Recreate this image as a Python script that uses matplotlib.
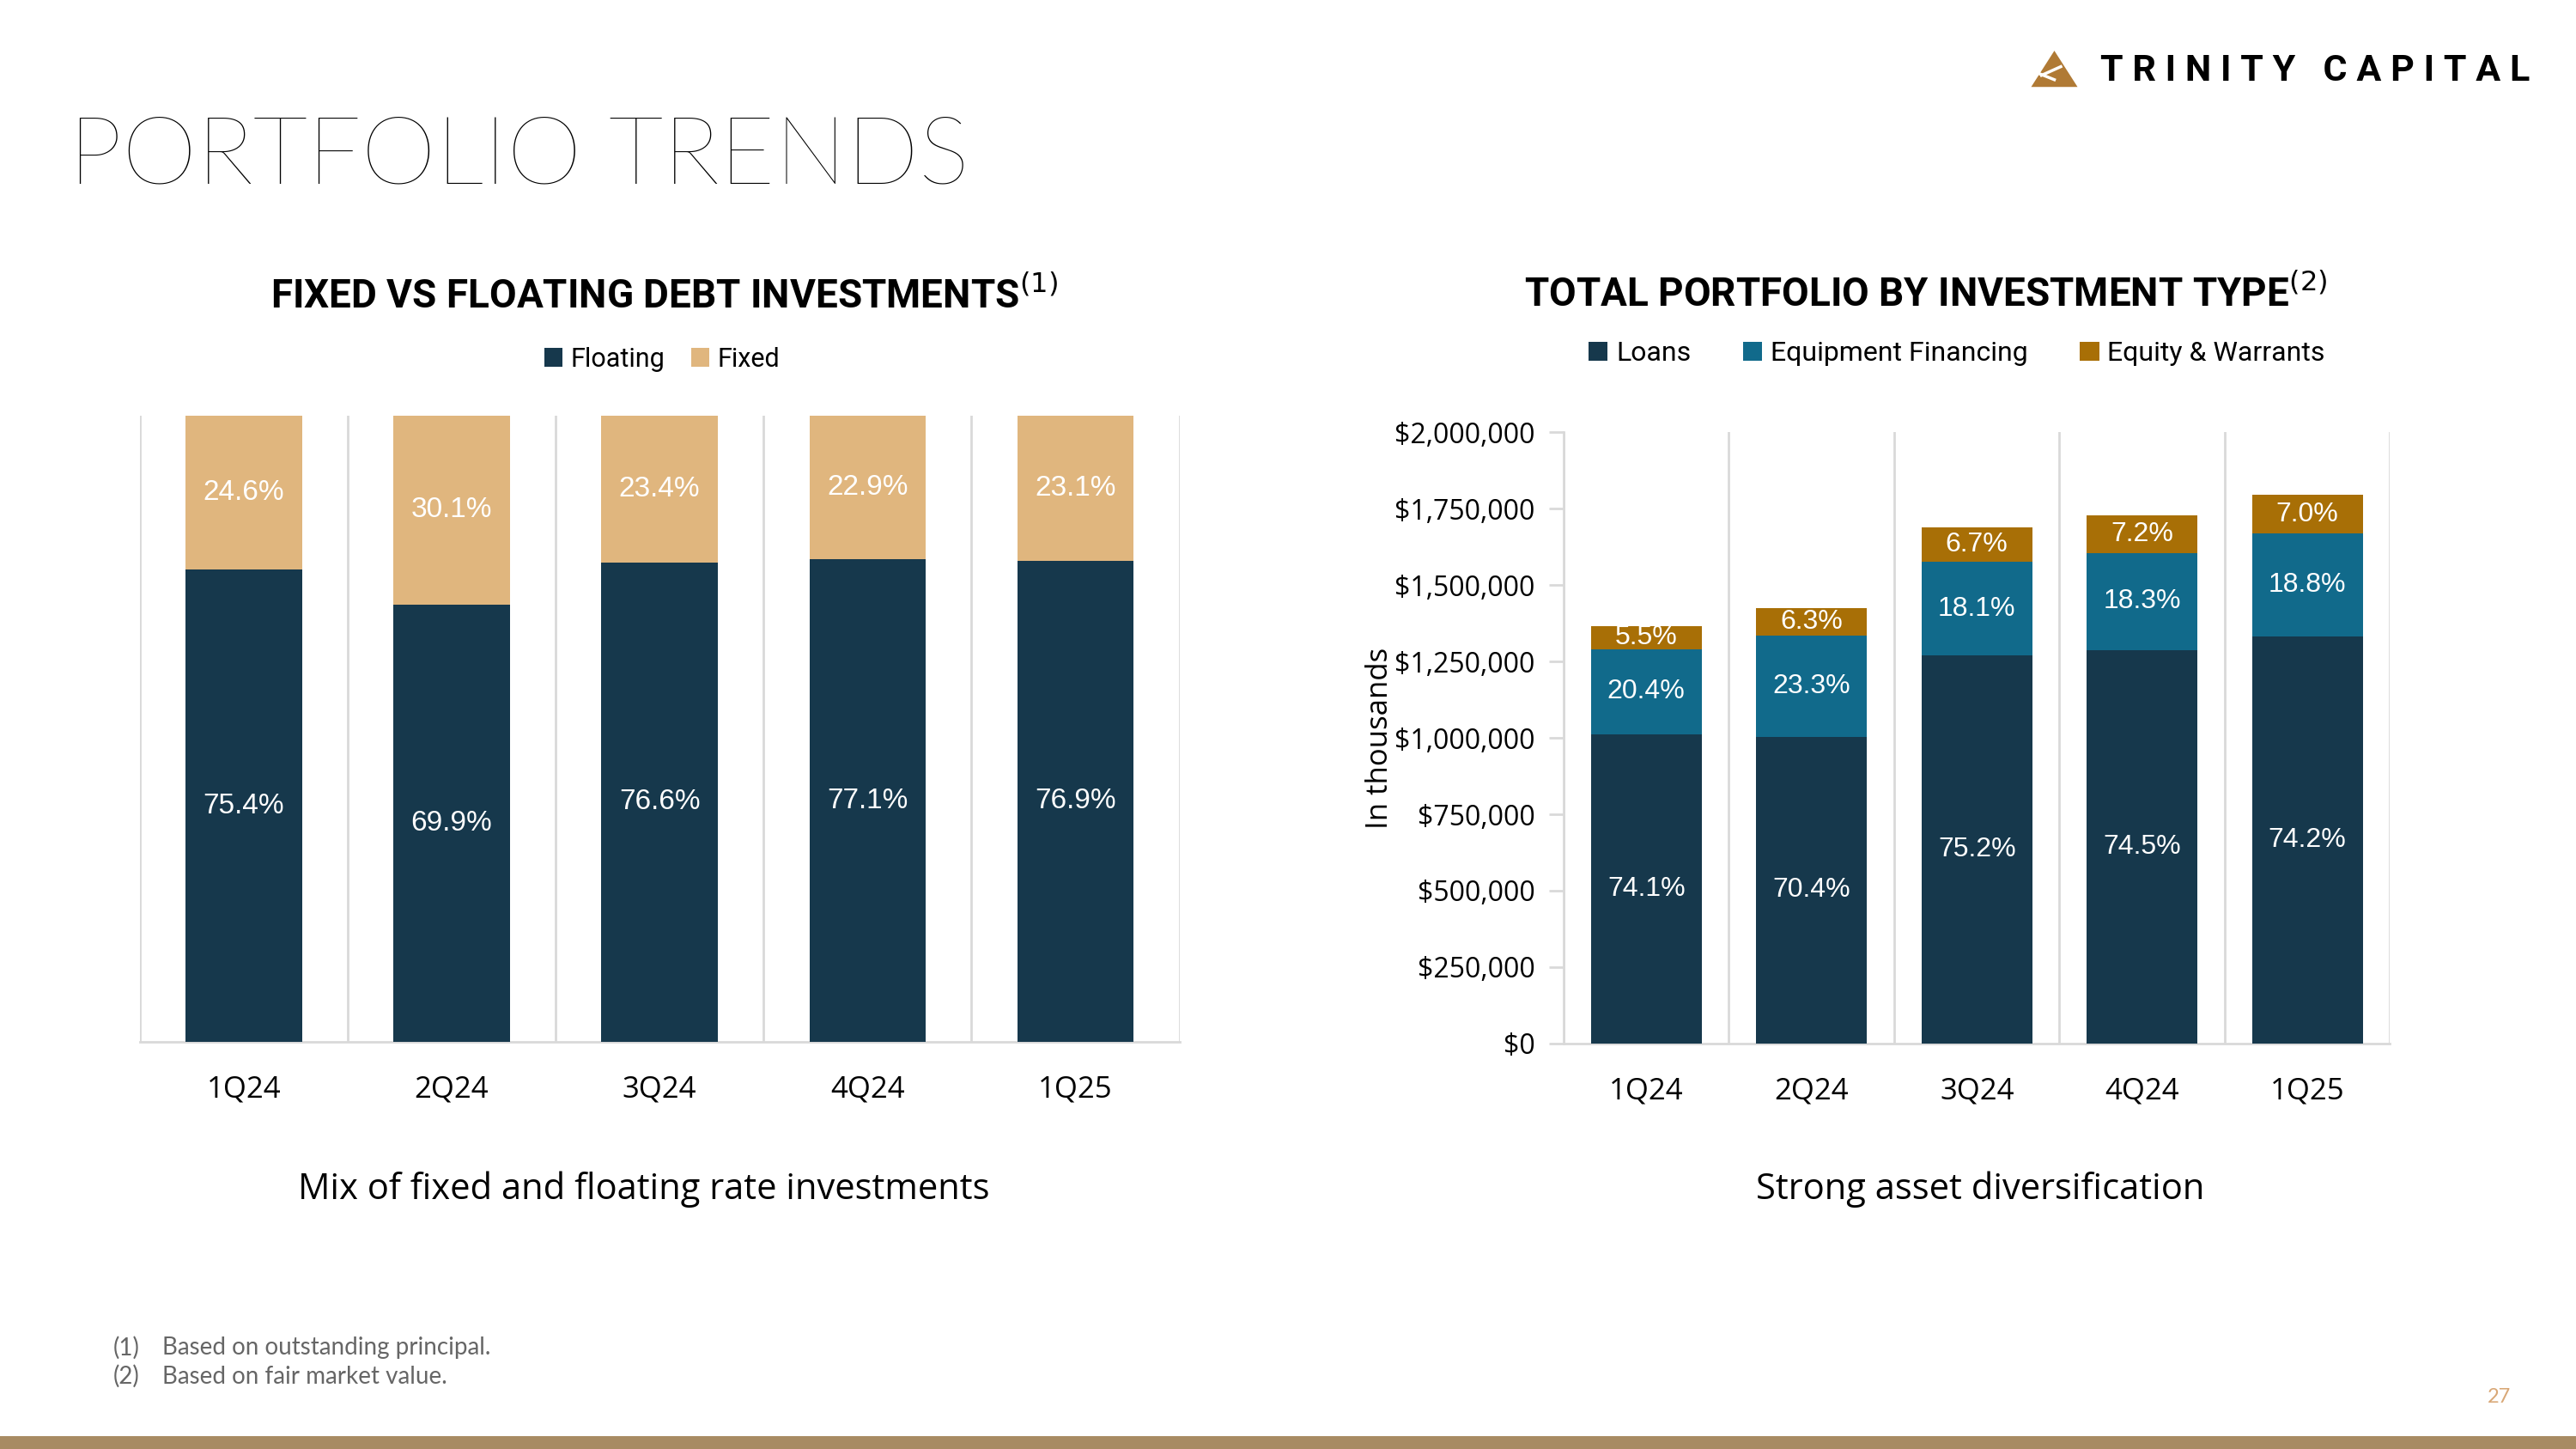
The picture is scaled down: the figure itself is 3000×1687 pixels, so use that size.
import numpy as np
import matplotlib.pyplot as plt
from matplotlib.patches import Polygon

quarters = ['1Q24', '2Q24', '3Q24', '4Q24', '1Q25']

# left chart: share of debt investments (%)
floating_pct = [75.4, 69.9, 76.6, 77.1, 76.9]
fixed_pct = [24.6, 30.1, 23.4, 22.9, 23.1]

# right chart: total portfolio (in thousands) and mix (%)
total_portfolio = [1365000, 1425000, 1688000, 1728000, 1794000]
loans_pct = [74.1, 70.4, 75.2, 74.5, 74.2]
equip_pct = [20.4, 23.3, 18.1, 18.3, 18.8]
equity_pct = [5.5, 6.3, 6.7, 7.2, 7.0]
y_ticks = [0, 250000, 500000, 750000, 1000000, 1250000, 1500000, 1750000, 2000000]

NAVY = '#16384C'
TAN = '#E0B67E'
TEAL = '#116A8B'
GOLD = '#A86F06'
GRID = '#D9D9D9'

plt.rcParams['font.family'] = ['Lato', 'DejaVu Sans']

fig = plt.figure(figsize=(30, 16.87), dpi=100)
x = np.arange(len(quarters))

# ---- left: fixed vs floating
ax1 = fig.add_axes([0.0542, 0.281, 0.4037, 0.432])
ax1.bar(x, floating_pct, width=0.56, color=NAVY, label='Floating', zorder=3)
ax1.bar(x, fixed_pct, width=0.56, bottom=floating_pct, color=TAN, label='Fixed', zorder=3)
for i in range(len(quarters)):
    ax1.text(x[i], floating_pct[i] / 2, f'{floating_pct[i]:.1f}%', ha='center', va='center',
             color='white', fontsize=24, family='Liberation Sans', zorder=4)
    ax1.text(x[i], floating_pct[i] + fixed_pct[i] / 2, f'{fixed_pct[i]:.1f}%', ha='center',
             va='center', color='white', fontsize=24, family='Liberation Sans', zorder=4)
ax1.set_xlim(-0.5, 4.5)
ax1.set_ylim(0, 100)
ax1.set_yticks([])
ax1.set_xticks(x)
ax1.set_xticklabels(quarters, fontsize=25, family='Open Sans')
ax1.set_xticks(np.arange(-0.5, 5), minor=True)
ax1.tick_params(axis='x', which='both', length=0, pad=28)
ax1.grid(which='minor', axis='x', color=GRID, lw=2, zorder=0)
for s in ['top', 'left', 'right']:
    ax1.spines[s].set_visible(False)
ax1.spines['bottom'].set_color(GRID)
ax1.spines['bottom'].set_linewidth(2)

# ---- right: total portfolio by type
loans = np.array(total_portfolio) * np.array(loans_pct) / 100
equip = np.array(total_portfolio) * np.array(equip_pct) / 100
equity = np.array(total_portfolio) * np.array(equity_pct) / 100

ax2 = fig.add_axes([0.607, 0.2798, 0.3208, 0.422])
ax2.bar(x, loans, width=0.67, color=NAVY, label='Loans', zorder=3)
ax2.bar(x, equip, width=0.67, bottom=loans, color=TEAL, label='Equipment Financing', zorder=3)
ax2.bar(x, equity, width=0.67, bottom=loans + equip, color=GOLD, label='Equity & Warrants', zorder=3)
for i in range(len(quarters)):
    ax2.text(x[i], loans[i] / 2, f'{loans_pct[i]:.1f}%', ha='center', va='center',
             color='white', fontsize=23, family='Liberation Sans', zorder=4)
    ax2.text(x[i], loans[i] + equip[i] / 2, f'{equip_pct[i]:.1f}%', ha='center', va='center',
             color='white', fontsize=23, family='Liberation Sans', zorder=4)
    ax2.text(x[i], loans[i] + equip[i] + equity[i] / 2, f'{equity_pct[i]:.1f}%', ha='center',
             va='center', color='white', fontsize=23, family='Liberation Sans', zorder=4)
ax2.set_xlim(-0.5, 4.5)
ax2.set_ylim(0, 2000000)
ax2.set_yticks(y_ticks)
ax2.set_yticklabels([f'${v:,.0f}' for v in y_ticks], fontsize=23, family='Open Sans')
ax2.set_xticks(x)
ax2.set_xticklabels(quarters, fontsize=25, family='Open Sans')
ax2.set_xticks(np.arange(-0.5, 5), minor=True)
ax2.tick_params(axis='x', which='both', length=0, pad=28)
ax2.tick_params(axis='y', length=12, width=2, color=GRID, pad=12)
ax2.grid(which='minor', axis='x', color=GRID, lw=2, zorder=0)
ax2.set_ylabel('In thousands', fontsize=25, family='Open Sans', labelpad=0)
for s in ['top', 'right']:
    ax2.spines[s].set_visible(False)
for s in ['bottom', 'left']:
    ax2.spines[s].set_color(GRID)
    ax2.spines[s].set_linewidth(2)

# ---- titles, legends, captions
fig.text(0.0268, 0.891, 'PORTFOLIO TRENDS', fontsize=80, fontweight='light', va='center',
         ha='left', family=['Lato', 'DejaVu Sans'])
fig.text(0.2577, 0.796, 'FIXED VS FLOATING DEBT INVESTMENTS$^{(1)}$', fontsize=33,
         fontweight='bold', ha='center', va='center', family='Roboto')
fig.text(0.7476, 0.797, 'TOTAL PORTFOLIO BY INVESTMENT TYPE$^{(2)}$', fontsize=33,
         fontweight='bold', ha='center', va='center', family='Roboto')

fig.legend(handles=ax1.containers, labels=['Floating', 'Fixed'], loc='center',
           bbox_to_anchor=(0.257, 0.752), ncol=2, frameon=False,
           handlelength=0.7, handleheight=0.7, handletextpad=0.3, columnspacing=1.0,
           prop={'family': 'Roboto', 'size': 22})
fig.legend(handles=ax2.containers, labels=['Loans', 'Equipment Financing', 'Equity & Warrants'],
           loc='center', bbox_to_anchor=(0.7596, 0.756), ncol=3, frameon=False,
           handlelength=0.7, handleheight=0.7, handletextpad=0.3, columnspacing=1.9,
           prop={'family': 'Roboto', 'size': 23})

fig.text(0.250, 0.179, 'Mix of fixed and floating rate investments', fontsize=30,
         ha='center', va='center', family='Open Sans')
fig.text(0.7686, 0.179, 'Strong asset diversification', fontsize=30,
         ha='center', va='center', family='Open Sans')

fig.text(0.044, 0.070, '(1)', fontsize=20, color='#666666', va='center')
fig.text(0.063, 0.070, 'Based on outstanding principal.', fontsize=20, color='#666666', va='center')
fig.text(0.044, 0.050, '(2)', fontsize=20, color='#666666', va='center')
fig.text(0.063, 0.050, 'Based on fair market value.', fontsize=20, color='#666666', va='center')
fig.text(0.970, 0.036, '27', fontsize=17, color='#D9A877', ha='center', va='center')

# bottom band
fig.add_artist(plt.Rectangle((0, 0), 1, 0.009, transform=fig.transFigure,
                             color='#A88B63', lw=0))

# logo
tri = Polygon([[0.7885, 0.940], [0.7975, 0.965], [0.8065, 0.940]], closed=True,
              transform=fig.transFigure, color='#B07A35', lw=0)
fig.add_artist(tri)
fig.add_artist(plt.Line2D([0.7925, 0.8000], [0.948, 0.954], transform=fig.transFigure,
                          color='white', lw=2.5))
fig.add_artist(plt.Line2D([0.7905, 0.7975], [0.950, 0.945], transform=fig.transFigure,
                          color='white', lw=2.5))
fig.text(0.8155, 0.951, 'T R I N I T Y   C A P I T A L', fontsize=31, fontweight='bold',
         va='center', ha='left', family='Roboto')

fig.savefig('out.png', dpi=100)
